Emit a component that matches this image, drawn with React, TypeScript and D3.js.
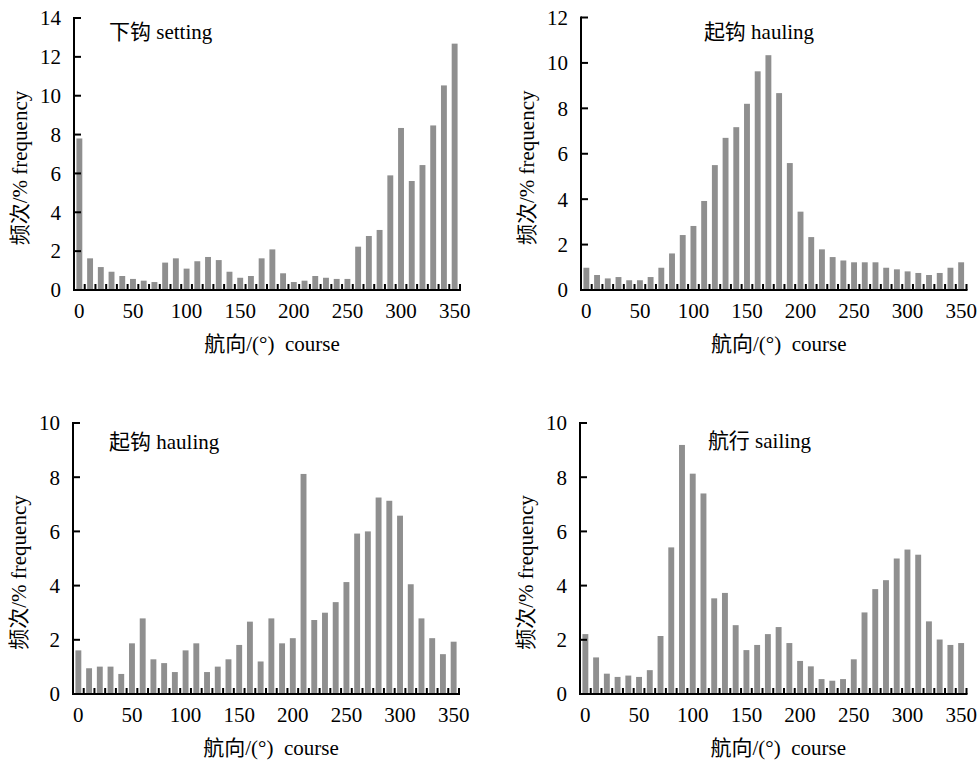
import React from "react";
import * as d3 from "d3";

const courses = d3.range(0, 360, 10);

const settingValues = [7.8, 1.63, 1.18, 0.94, 0.72, 0.57, 0.48, 0.41, 1.41, 1.63, 1.1, 1.48, 1.7, 1.54, 0.94, 0.63, 0.72, 1.63, 2.09, 0.86, 0.41, 0.48, 0.72, 0.63, 0.57, 0.57, 2.23, 2.78, 3.09, 5.9, 8.34, 5.61, 6.43, 8.47, 10.53, 12.68];
const hauling1Values = [0.98, 0.66, 0.51, 0.57, 0.43, 0.43, 0.57, 0.98, 1.61, 2.42, 2.82, 3.92, 5.5, 6.7, 7.17, 8.2, 9.63, 10.34, 8.67, 5.59, 3.45, 2.33, 1.79, 1.45, 1.3, 1.22, 1.22, 1.22, 0.98, 0.91, 0.82, 0.75, 0.66, 0.75, 0.98, 1.22];
const hauling2Values = [1.61, 0.95, 1.01, 1.01, 0.74, 1.87, 2.79, 1.28, 1.14, 0.81, 1.61, 1.87, 0.81, 1.01, 1.28, 1.81, 2.67, 1.2, 2.79, 1.87, 2.06, 8.12, 2.73, 3.0, 3.39, 4.13, 5.92, 6.0, 7.25, 7.13, 6.58, 4.05, 2.79, 2.06, 1.47, 1.93];
const sailingValues = [2.21, 1.35, 0.75, 0.63, 0.68, 0.63, 0.88, 2.14, 5.41, 9.19, 8.13, 7.4, 3.53, 3.73, 2.54, 1.62, 1.81, 2.21, 2.47, 1.88, 1.22, 1.02, 0.55, 0.49, 0.55, 1.28, 3.01, 3.87, 4.2, 5.0, 5.33, 5.14, 2.68, 2.01, 1.81, 1.88];

const xTickLabels = [0, 50, 100, 150, 200, 250, 300, 350];
const titles = ["下钩 setting", "起钩 hauling", "起钩 hauling", "航行 sailing"];
const yMaxes = [14, 12, 10, 10];
const yLabel = "频次/% frequency";
const xLabel = "航向/(°)  course";

const FONT = "'Times New Roman', 'Liberation Serif', 'Noto Sans CJK SC', serif";

type PanelProps = {
  values: number[];
  title: string;
  yMax: number;
  x0: number;
  x1: number;
  yTop: number;
  yBottom: number;
  titleX: number;
  titleAnchor: "start" | "middle";
  titleY: number;
};

function Panel({ values, title, yMax, x0, x1, yTop, yBottom, titleX, titleAnchor, titleY }: PanelProps) {
  const x = d3.scaleBand<number>().domain(courses).range([x0, x1]).padding(0);
  const y = d3.scaleLinear().domain([0, yMax]).range([yBottom, yTop]);
  const bw = x.bandwidth();
  const barW = bw * 0.55;
  const yTicks = d3.range(0, yMax + 1, 2);
  const fs = 21;
  return (
    <g fontFamily={FONT}>
      {values.map((v, i) => (
        <rect
          key={i}
          x={(x(courses[i]) as number) + (bw - barW) / 2}
          y={y(v)}
          width={barW}
          height={yBottom - y(v)}
          fill="#8f8f8f"
        />
      ))}
      {/* x ticks at band boundaries */}
      {courses.map((c, i) => {
        const bx = (x(c) as number) + bw;
        return <line key={i} x1={bx} x2={bx} y1={yBottom} y2={yBottom - 6} stroke="#000" strokeWidth={2} />;
      })}
      {/* y ticks */}
      {yTicks.map((t) => (
        <g key={t}>
          <line x1={x0} x2={x0 + 7} y1={y(t)} y2={y(t)} stroke="#000" strokeWidth={2} />
          <text x={x0 - 13} y={y(t)} dy="0.35em" textAnchor="end" fontSize={fs}>
            {t}
          </text>
        </g>
      ))}
      <line x1={x0} x2={x0} y1={yTop - 1} y2={yBottom + 1} stroke="#000" strokeWidth={2} />
      <line x1={x0 - 1} x2={x1 + 1} y1={yBottom} y2={yBottom} stroke="#000" strokeWidth={2} />
      {xTickLabels.map((t) => (
        <text key={t} x={(x(t) as number) + bw / 2} y={yBottom + 28} textAnchor="middle" fontSize={fs}>
          {t}
        </text>
      ))}
      <text x={titleX} y={titleY} textAnchor={titleAnchor} fontSize={fs}>
        {title}
      </text>
      <text x={(x0 + x1) / 2 + 5} y={yBottom + 61} textAnchor="middle" fontSize={fs} xmlSpace="preserve">
        {xLabel}
      </text>
      <text
        transform={`translate(${x0 - 54},${(yTop + yBottom) / 2 + 14}) rotate(-90)`}
        textAnchor="middle"
        dy="0.35em"
        fontSize={fs}
      >
        {yLabel}
      </text>
    </g>
  );
}

export default function App() {
  return (
    <svg
      width={979}
      height={761}
      style={{ position: "absolute", left: 0, top: 0, background: "#fff" }}
    >
      <rect width={979} height={761} fill="#fff" />
      <Panel values={settingValues} title={titles[0]} yMax={yMaxes[0]} x0={74} x1={460} yTop={18} yBottom={290} titleX={109} titleAnchor="start" titleY={39} />
      <Panel values={hauling1Values} title={titles[1]} yMax={yMaxes[1]} x0={581} x1={966.5} yTop={17.5} yBottom={290} titleX={759} titleAnchor="middle" titleY={39} />
      <Panel values={hauling2Values} title={titles[2]} yMax={yMaxes[2]} x0={73} x1={459} yTop={423} yBottom={694} titleX={109} titleAnchor="start" titleY={449} />
      <Panel values={sailingValues} title={titles[3]} yMax={yMaxes[3]} x0={580} x1={966.5} yTop={423} yBottom={694} titleX={759.5} titleAnchor="middle" titleY={448} />
    </svg>
  );
}
